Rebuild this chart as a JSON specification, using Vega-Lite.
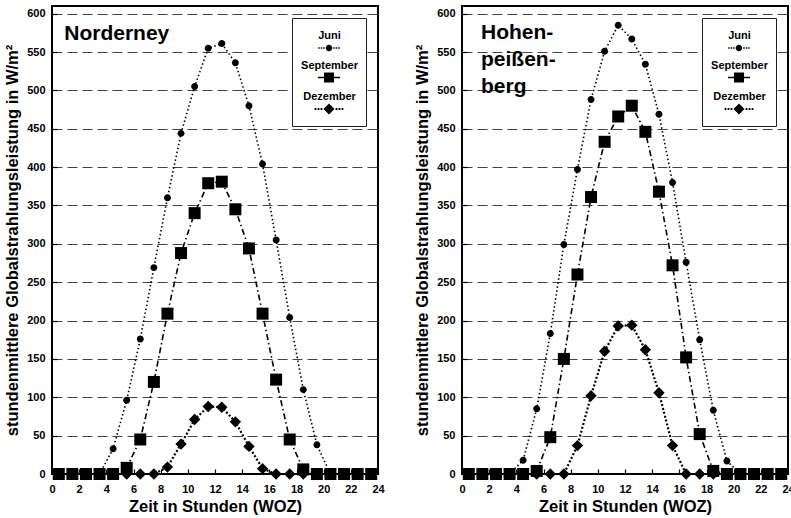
{
"$schema":"https://vega.github.io/schema/vega-lite/v6.json",
"padding":{"left":3,"top":5,"right":0,"bottom":0},
"background":"white",
"config":{
 "font":"Liberation Sans",
 "view":{"stroke":"black","strokeWidth":2},
 "axis":{"domain":false,"labelFont":"Liberation Sans","labelFontWeight":"bold","labelFontSize":11,"labelColor":"black","titleFont":"Liberation Sans","titleFontWeight":"bold","titleFontSize":16.5,"titleColor":"black","tickColor":"black","tickWidth":1.2,"labelFlush":false,"labelOverlap":false},
 "axisX":{"values":[0,2,4,6,8,10,12,14,16,18,20,22,24],"tickSize":-5,"labelPadding":14,"titlePadding":4,"grid":false},
 "axisY":{"values":[0,10,20,30,40,50,60,70,80,90,100,110,120,130,140,150,160,170,180,190,200,210,220,230,240,250,260,270,280,290,300,310,320,330,340,350,360,370,380,390,400,410,420,430,440,450,460,470,480,490,500,510,520,530,540,550,560,570,580,590,600],"labelExpr":"datum.value % 50 === 0 ? datum.label : ''","tickSize":-5,"labelPadding":12,"titlePadding":6,"grid":true,"gridDash":[10,5],"gridColor":"#444","gridWidth":1.2}
},
"datasets":{
"nord":[
{"m":"Juni","h":0.5,"w":0},{"m":"Juni","h":1.5,"w":0},{"m":"Juni","h":2.5,"w":0},{"m":"Juni","h":3.5,"w":0},{"m":"Juni","h":4.5,"w":33},{"m":"Juni","h":5.5,"w":96},{"m":"Juni","h":6.5,"w":176},{"m":"Juni","h":7.5,"w":269},{"m":"Juni","h":8.5,"w":360},{"m":"Juni","h":9.5,"w":444},{"m":"Juni","h":10.5,"w":505},{"m":"Juni","h":11.5,"w":555},{"m":"Juni","h":12.5,"w":561},{"m":"Juni","h":13.5,"w":536},{"m":"Juni","h":14.5,"w":480},{"m":"Juni","h":15.5,"w":404},{"m":"Juni","h":16.5,"w":305},{"m":"Juni","h":17.5,"w":204},{"m":"Juni","h":18.5,"w":110},{"m":"Juni","h":19.5,"w":38},{"m":"Juni","h":20.5,"w":0},{"m":"Juni","h":21.5,"w":0},{"m":"Juni","h":22.5,"w":0},{"m":"Juni","h":23.5,"w":0},
{"m":"Dezember","h":0.5,"w":0},{"m":"Dezember","h":1.5,"w":0},{"m":"Dezember","h":2.5,"w":0},{"m":"Dezember","h":3.5,"w":0},{"m":"Dezember","h":4.5,"w":0},{"m":"Dezember","h":5.5,"w":0},{"m":"Dezember","h":6.5,"w":0},{"m":"Dezember","h":7.5,"w":0},{"m":"Dezember","h":8.5,"w":9},{"m":"Dezember","h":9.5,"w":39},{"m":"Dezember","h":10.5,"w":71},{"m":"Dezember","h":11.5,"w":88},{"m":"Dezember","h":12.5,"w":87},{"m":"Dezember","h":13.5,"w":68},{"m":"Dezember","h":14.5,"w":36},{"m":"Dezember","h":15.5,"w":7},{"m":"Dezember","h":16.5,"w":0},{"m":"Dezember","h":17.5,"w":0},{"m":"Dezember","h":18.5,"w":0},{"m":"Dezember","h":19.5,"w":0},{"m":"Dezember","h":20.5,"w":0},{"m":"Dezember","h":21.5,"w":0},{"m":"Dezember","h":22.5,"w":0},{"m":"Dezember","h":23.5,"w":0},
{"m":"September","h":0.5,"w":0},{"m":"September","h":1.5,"w":0},{"m":"September","h":2.5,"w":0},{"m":"September","h":3.5,"w":0},{"m":"September","h":4.5,"w":0},{"m":"September","h":5.5,"w":8},{"m":"September","h":6.5,"w":45},{"m":"September","h":7.5,"w":120},{"m":"September","h":8.5,"w":209},{"m":"September","h":9.5,"w":288},{"m":"September","h":10.5,"w":340},{"m":"September","h":11.5,"w":379},{"m":"September","h":12.5,"w":381},{"m":"September","h":13.5,"w":345},{"m":"September","h":14.5,"w":294},{"m":"September","h":15.5,"w":209},{"m":"September","h":16.5,"w":123},{"m":"September","h":17.5,"w":45},{"m":"September","h":18.5,"w":6},{"m":"September","h":19.5,"w":0},{"m":"September","h":20.5,"w":0},{"m":"September","h":21.5,"w":0},{"m":"September","h":22.5,"w":0},{"m":"September","h":23.5,"w":0}
],
"hohen":[
{"m":"Juni","h":0.5,"w":0},{"m":"Juni","h":1.5,"w":0},{"m":"Juni","h":2.5,"w":0},{"m":"Juni","h":3.5,"w":0},{"m":"Juni","h":4.5,"w":18},{"m":"Juni","h":5.5,"w":85},{"m":"Juni","h":6.5,"w":183},{"m":"Juni","h":7.5,"w":299},{"m":"Juni","h":8.5,"w":397},{"m":"Juni","h":9.5,"w":488},{"m":"Juni","h":10.5,"w":551},{"m":"Juni","h":11.5,"w":585},{"m":"Juni","h":12.5,"w":567},{"m":"Juni","h":13.5,"w":534},{"m":"Juni","h":14.5,"w":469},{"m":"Juni","h":15.5,"w":380},{"m":"Juni","h":16.5,"w":276},{"m":"Juni","h":17.5,"w":175},{"m":"Juni","h":18.5,"w":83},{"m":"Juni","h":19.5,"w":17},{"m":"Juni","h":20.5,"w":0},{"m":"Juni","h":21.5,"w":0},{"m":"Juni","h":22.5,"w":0},{"m":"Juni","h":23.5,"w":0},
{"m":"Dezember","h":0.5,"w":0},{"m":"Dezember","h":1.5,"w":0},{"m":"Dezember","h":2.5,"w":0},{"m":"Dezember","h":3.5,"w":0},{"m":"Dezember","h":4.5,"w":0},{"m":"Dezember","h":5.5,"w":0},{"m":"Dezember","h":6.5,"w":0},{"m":"Dezember","h":7.5,"w":0},{"m":"Dezember","h":8.5,"w":37},{"m":"Dezember","h":9.5,"w":102},{"m":"Dezember","h":10.5,"w":160},{"m":"Dezember","h":11.5,"w":193},{"m":"Dezember","h":12.5,"w":194},{"m":"Dezember","h":13.5,"w":162},{"m":"Dezember","h":14.5,"w":106},{"m":"Dezember","h":15.5,"w":37},{"m":"Dezember","h":16.5,"w":0},{"m":"Dezember","h":17.5,"w":0},{"m":"Dezember","h":18.5,"w":0},{"m":"Dezember","h":19.5,"w":0},{"m":"Dezember","h":20.5,"w":0},{"m":"Dezember","h":21.5,"w":0},{"m":"Dezember","h":22.5,"w":0},{"m":"Dezember","h":23.5,"w":0},
{"m":"September","h":0.5,"w":0},{"m":"September","h":1.5,"w":0},{"m":"September","h":2.5,"w":0},{"m":"September","h":3.5,"w":0},{"m":"September","h":4.5,"w":0},{"m":"September","h":5.5,"w":4},{"m":"September","h":6.5,"w":48},{"m":"September","h":7.5,"w":150},{"m":"September","h":8.5,"w":260},{"m":"September","h":9.5,"w":361},{"m":"September","h":10.5,"w":433},{"m":"September","h":11.5,"w":466},{"m":"September","h":12.5,"w":480},{"m":"September","h":13.5,"w":446},{"m":"September","h":14.5,"w":368},{"m":"September","h":15.5,"w":272},{"m":"September","h":16.5,"w":152},{"m":"September","h":17.5,"w":52},{"m":"September","h":18.5,"w":4},{"m":"September","h":19.5,"w":0},{"m":"September","h":20.5,"w":0},{"m":"September","h":21.5,"w":0},{"m":"September","h":22.5,"w":0},{"m":"September","h":23.5,"w":0}
]
},
"spacing":27,
"hconcat":[
{
 "width":326,"height":468,
 "data":{"name":"nord"},
 "layer":[
  {"transform":[{"filter":"datum.m === 'Juni'"}],"mark":{"type":"line","color":"black","strokeDash":[1.5,2.5],"strokeWidth":1.6},
   "encoding":{
    "x":{"field":"h","type":"quantitative","scale":{"domain":[0,24],"nice":false,"zero":false},"axis":{"title":"Zeit in Stunden (WOZ)"}},
    "y":{"field":"w","type":"quantitative","scale":{"domain":[0,610],"nice":false},"axis":{"title":"stundenmittlere Globalstrahlungsleistung in W/m²","gridOpacity":{"condition":{"test":"datum.value % 50 === 0 && datum.value > 0","value":1},"value":0}}}}},
  {"transform":[{"filter":"datum.m === 'September'"}],"mark":{"type":"line","color":"black","strokeDash":[6,3,1.5,3],"strokeWidth":1.6},
   "encoding":{"x":{"field":"h","type":"quantitative"},"y":{"field":"w","type":"quantitative"}}},
  {"transform":[{"filter":"datum.m === 'Dezember'"}],"mark":{"type":"line","color":"black","strokeDash":[2,2],"strokeWidth":2.2},
   "encoding":{"x":{"field":"h","type":"quantitative"},"y":{"field":"w","type":"quantitative"}}},
  {"mark":{"type":"point","filled":true,"color":"black","opacity":1,"size":144},
   "encoding":{
    "x":{"field":"h","type":"quantitative"},
    "y":{"field":"w","type":"quantitative"},
    "shape":{"field":"m","type":"nominal","scale":{"domain":["Juni","September","Dezember"],"range":["M0.58,0A0.58,0.58,0,1,1,-0.58,0A0.58,0.58,0,1,1,0.58,0Z","M-1,-1H1V1H-1Z","M0,-0.95L0.95,0L0,0.95L-0.95,0Z"]},"legend":null}}},
  {"transform":[{"filter":"datum.w < 0"}],"mark":{"type":"point","filled":true,"color":"black","opacity":1},
   "encoding":{
    "x":{"field":"h","type":"quantitative"},
    "y":{"field":"w","type":"quantitative"},
    "shape":{"field":"m","type":"nominal","scale":{"domain":["Juni","September","Dezember"],"range":["M0.356,1.333A0.356,0.356,0,1,1,-0.356,1.333A0.356,0.356,0,1,1,0.356,1.333ZM-1.195,1.25h0.167v0.167h-0.167ZM-0.917,1.25h0.167v0.167h-0.167ZM-0.639,1.25h0.167v0.167h-0.167ZM0.472,1.25h0.167v0.167h-0.167ZM0.75,1.25h0.167v0.167h-0.167ZM1.028,1.25h0.167v0.167h-0.167Z","M-0.556,0.777H0.556V1.889H-0.556ZM-1.223,1.25H-0.556V1.417H-1.223ZM0.556,1.25H1.223V1.417H0.556Z","M0,0.723L0.611,1.333L0,1.944L-0.611,1.333ZM-1.6,1.233h0.2v0.2h-0.2ZM-1.267,1.233h0.2v0.2h-0.2ZM-0.933,1.233h0.2v0.2h-0.2ZM0.733,1.233h0.2v0.2h-0.2ZM1.067,1.233h0.2v0.2h-0.2ZM1.4,1.233h0.2v0.2h-0.2Z"]},
     "legend":{"title":null,"orient":"top-right","offset":12,"fillColor":"white","strokeColor":"#222","padding":8,"labelFontWeight":"bold","labelFontSize":11,"labelColor":"black","labelAlign":"center","labelOffset":-9.5,"symbolOffset":19,"symbolSize":324,"rowPadding":0.5}}}},
  {"data":{"values":[{"t":"Norderney"}]},"mark":{"type":"text","align":"left","baseline":"alphabetic","font":"Liberation Sans","fontSize":21,"fontWeight":"bold","color":"black"},
   "encoding":{"x":{"datum":0.9,"type":"quantitative"},"y":{"datum":566,"type":"quantitative"},"text":{"field":"t","type":"nominal"}}}
 ],
 "resolve":{"scale":{"shape":"independent"},"legend":{"shape":"independent"}}
},
{
 "width":326,"height":468,
 "data":{"name":"hohen"},
 "layer":[
  {"transform":[{"filter":"datum.m === 'Juni'"}],"mark":{"type":"line","color":"black","strokeDash":[1.5,2.5],"strokeWidth":1.6},
   "encoding":{
    "x":{"field":"h","type":"quantitative","scale":{"domain":[0,24],"nice":false,"zero":false},"axis":{"title":"Zeit in Stunden (WOZ)"}},
    "y":{"field":"w","type":"quantitative","scale":{"domain":[0,610],"nice":false},"axis":{"title":"stundenmittlere Globalstrahlungsleistung in W/m²","gridOpacity":{"condition":{"test":"datum.value % 50 === 0 && datum.value > 0","value":1},"value":0}}}}},
  {"transform":[{"filter":"datum.m === 'September'"}],"mark":{"type":"line","color":"black","strokeDash":[6,3,1.5,3],"strokeWidth":1.6},
   "encoding":{"x":{"field":"h","type":"quantitative"},"y":{"field":"w","type":"quantitative"}}},
  {"transform":[{"filter":"datum.m === 'Dezember'"}],"mark":{"type":"line","color":"black","strokeDash":[2,2],"strokeWidth":2.2},
   "encoding":{"x":{"field":"h","type":"quantitative"},"y":{"field":"w","type":"quantitative"}}},
  {"mark":{"type":"point","filled":true,"color":"black","opacity":1,"size":144},
   "encoding":{
    "x":{"field":"h","type":"quantitative"},
    "y":{"field":"w","type":"quantitative"},
    "shape":{"field":"m","type":"nominal","scale":{"domain":["Juni","September","Dezember"],"range":["M0.58,0A0.58,0.58,0,1,1,-0.58,0A0.58,0.58,0,1,1,0.58,0Z","M-1,-1H1V1H-1Z","M0,-0.95L0.95,0L0,0.95L-0.95,0Z"]},"legend":null}}},
  {"transform":[{"filter":"datum.w < 0"}],"mark":{"type":"point","filled":true,"color":"black","opacity":1},
   "encoding":{
    "x":{"field":"h","type":"quantitative"},
    "y":{"field":"w","type":"quantitative"},
    "shape":{"field":"m","type":"nominal","scale":{"domain":["Juni","September","Dezember"],"range":["M0.356,1.333A0.356,0.356,0,1,1,-0.356,1.333A0.356,0.356,0,1,1,0.356,1.333ZM-1.195,1.25h0.167v0.167h-0.167ZM-0.917,1.25h0.167v0.167h-0.167ZM-0.639,1.25h0.167v0.167h-0.167ZM0.472,1.25h0.167v0.167h-0.167ZM0.75,1.25h0.167v0.167h-0.167ZM1.028,1.25h0.167v0.167h-0.167Z","M-0.556,0.777H0.556V1.889H-0.556ZM-1.223,1.25H-0.556V1.417H-1.223ZM0.556,1.25H1.223V1.417H0.556Z","M0,0.723L0.611,1.333L0,1.944L-0.611,1.333ZM-1.6,1.233h0.2v0.2h-0.2ZM-1.267,1.233h0.2v0.2h-0.2ZM-0.933,1.233h0.2v0.2h-0.2ZM0.733,1.233h0.2v0.2h-0.2ZM1.067,1.233h0.2v0.2h-0.2ZM1.4,1.233h0.2v0.2h-0.2Z"]},
     "legend":{"title":null,"orient":"top-right","offset":12,"fillColor":"white","strokeColor":"#222","padding":8,"labelFontWeight":"bold","labelFontSize":11,"labelColor":"black","labelAlign":"center","labelOffset":-9.5,"symbolOffset":19,"symbolSize":324,"rowPadding":0.5}}}},
  {"data":{"values":[{"t":"Hohen-\npeißen-\nberg"}]},"mark":{"type":"text","align":"left","baseline":"alphabetic","font":"Liberation Sans","fontSize":21,"fontWeight":"bold","color":"black","lineBreak":"\n","lineHeight":27},
   "encoding":{"x":{"datum":1.4,"type":"quantitative"},"y":{"datum":567,"type":"quantitative"},"text":{"field":"t","type":"nominal"}}}
 ],
 "resolve":{"scale":{"shape":"independent"},"legend":{"shape":"independent"}}
}
],
"resolve":{"scale":{"shape":"independent"},"legend":{"shape":"independent"}}
}
